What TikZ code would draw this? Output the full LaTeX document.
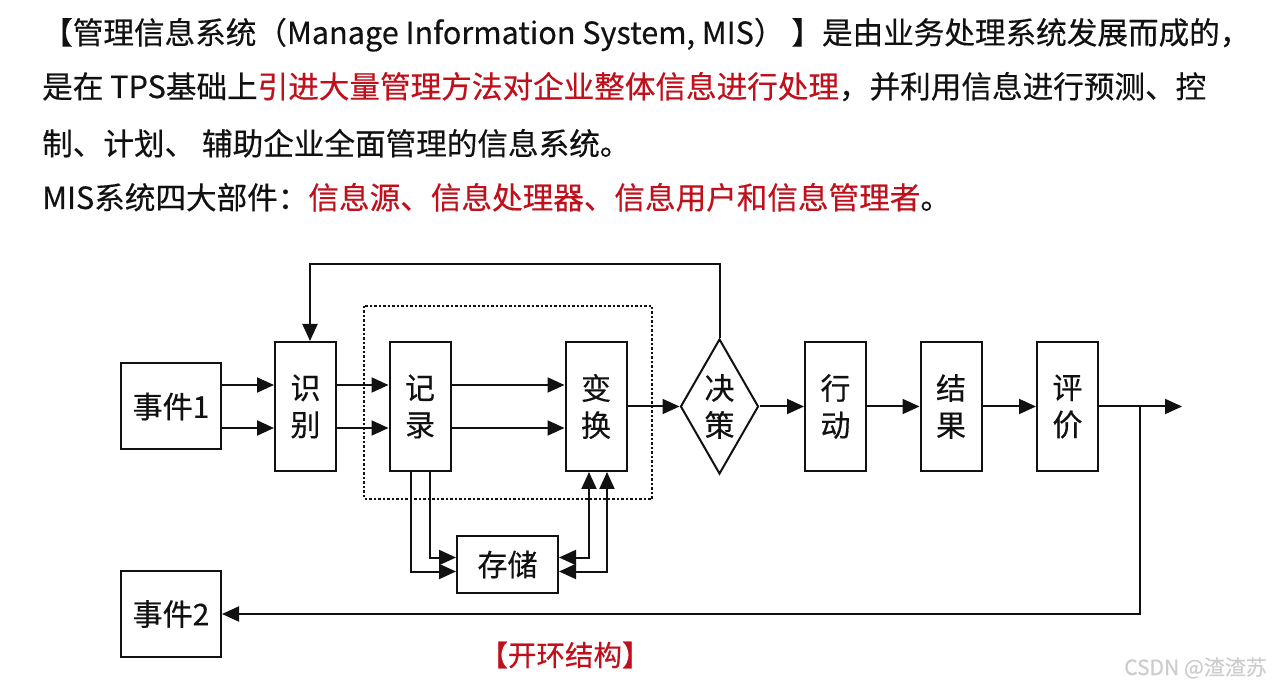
\documentclass[tikz,border=0pt]{standalone}
\usepackage{fontspec}
\setmainfont[FakeBold=0.4]{Noto Sans CJK SC}
\usetikzlibrary{arrows.meta,shapes.geometric,calc}
\definecolor{hred}{RGB}{192,16,28}
\definecolor{ink}{RGB}{17,17,17}
\definecolor{wmgray}{RGB}{205,205,205}
\begin{document}
\begin{tikzpicture}[x=1pt,y=-1pt,
  box/.style={draw=ink, line width=2pt, inner sep=0pt, align=center, font=\fontsize{30}{37}\selectfont, text=ink},
  tall/.style={box, minimum width=61pt, minimum height=129pt},
  arr/.style={line width=2pt, draw=ink, -{Triangle[length=17pt,width=15pt]}},
  darr/.style={line width=2pt, draw=ink, {Triangle[length=17pt,width=15pt]}-{Triangle[length=17pt,width=15pt]}},
  hdr/.style={anchor=base west, inner sep=0pt, font=\fontsize{30.6}{36}\selectfont, text=ink},
]
\path[fill=white] (0,0) rectangle (1275,692);
\useasboundingbox (0,0) rectangle (1275,692);

% header text
\node[hdr] (l1) at (42,44) {【管理信息系统（Manage Information System, MIS） 】是由业务处理系统发展而成的，};
\node[hdr] (l2) at (42,98) {是在 TPS基础上\textcolor{hred}{引进大量管理方法对企业整体信息进行处理}，并利用信息进行预测、控};
\node[hdr] (l3) at (42,155) {制、计划、 辅助企业全面管理的信息系统。};
\node[hdr] (l4) at (42,209) {MIS系统四大部件：\textcolor{hred}{信息源、信息处理器、信息用户和信息管理者}。};

% group frame
\draw[ink, line width=1.4pt, dash pattern=on 2.5pt off 2pt] (364,306) rectangle (652,499);

% nodes
\node[box, minimum width=100pt, minimum height=86pt] (e1) at (171,406.5) {事件1};
\node[tall] (sb) at (305.5,406.5) {识\\别};
\node[tall] (jl) at (420,406.5) {记\\录};
\node[tall] (bh) at (596,406.5) {变\\换};
\node[box, shape=diamond, aspect=0.58, minimum width=78pt, minimum height=135pt] (dec) at (719.5,406.5) {决\\策};
\node[tall] (xd) at (835.5,406.5) {行\\动};
\node[tall] (jg) at (951,406.5) {结\\果};
\node[tall] (pj) at (1067.5,406.5) {评\\价};
\node[box, minimum width=101pt, minimum height=57pt] (cc) at (507.5,564.5) {存储};
\node[box, minimum width=100pt, minimum height=86pt] (e2) at (171,614) {事件2};

\coordinate (out) at (1182,406.5);
\coordinate (br) at (1140,406.5);
\coordinate (fb) at (719.5,264);

% connectors
\foreach \s in {21.5,-21.5} {
  \draw[arr] ([yshift=\s pt]e1.east) -- ([yshift=\s pt]sb.west);
  \draw[arr] ([yshift=\s pt]sb.east) -- ([yshift=\s pt]jl.west);
  \draw[arr] ([yshift=\s pt]jl.east) -- ([yshift=\s pt]bh.west);
}
\draw[arr] (bh.east) -- (dec.west);
\draw[arr] (dec.east) -- (xd.west);
\draw[arr] (xd.east) -- (jg.west);
\draw[arr] (jg.east) -- (pj.west);
\draw[arr] (pj.east) -- (out);
\draw[arr] (br) |- (e2.east);
\draw[arr] (dec.north) -- (fb) -| ([xshift=4.5pt]sb.north);

\draw[arr] ([xshift=10pt]jl.south) |- ([yshift=7pt]cc.west);
\draw[arr] ([xshift=-9pt]jl.south) |- ([yshift=-7pt]cc.west);
\draw[darr] ([yshift=7pt]cc.east) -| ([xshift=-7pt]bh.south);
\draw[darr] ([yshift=-7pt]cc.east) -| ([xshift=11pt]bh.south);

% caption and watermark
\node[font=\fontsize{28.5}{32}\selectfont, text=hred, inner sep=0pt] (cap) at (565,655) {【开环结构】};
\node[font=\fontsize{21}{24}\selectfont, text=wmgray, anchor=east, inner sep=0pt] (wm) at (1267,668) {CSDN @渣渣苏};
\end{tikzpicture}
\end{document}
